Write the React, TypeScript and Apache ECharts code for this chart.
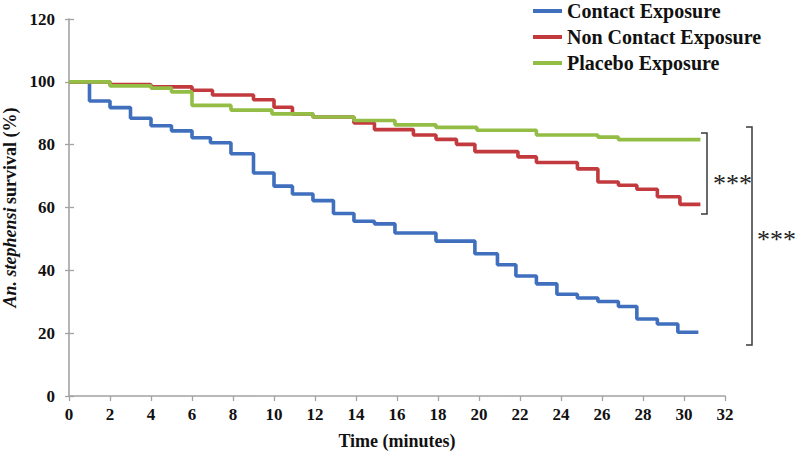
import React, { useEffect, useRef } from "react";
import * as echarts from "echarts";

// ---- Data (time in minutes, survival in %) ----
const seriesNames = ["Contact Exposure", "Non Contact Exposure", "Placebo Exposure"];

const contactTimes = [0, 1.0, 2.0, 3.0, 4.0, 5.0, 6.0, 6.9, 7.9, 9.0, 10.0, 10.9, 11.9, 12.9, 13.9, 14.9, 15.9, 17.9, 19.8, 20.9, 21.8, 22.8, 23.8, 24.8, 25.8, 26.8, 27.7, 28.7, 29.7, 30.7];
const contactValues = [100, 93.9, 91.8, 88.4, 86.0, 84.4, 82.2, 80.6, 77.1, 71.0, 66.8, 64.3, 62.2, 58.1, 55.6, 54.8, 51.9, 49.3, 45.3, 41.8, 38.2, 35.7, 32.4, 31.2, 30.1, 28.5, 24.5, 22.9, 20.3, 20.3];

const nonContactTimes = [0, 2.0, 4.0, 6.0, 7.0, 9.0, 10.0, 10.9, 11.9, 13.9, 14.9, 16.8, 17.9, 18.9, 19.8, 21.9, 22.8, 24.8, 25.8, 26.8, 27.7, 28.7, 29.8, 30.8];
const nonContactValues = [100, 99.1, 98.4, 97.3, 95.8, 94.3, 91.9, 89.8, 88.8, 86.9, 84.8, 83.1, 81.7, 80.1, 77.8, 76.1, 74.3, 72.3, 68.1, 67.1, 65.8, 63.4, 61.0, 61.0];

const placeboTimes = [0, 2.0, 4.0, 5.0, 6.0, 7.9, 9.9, 11.9, 13.9, 15.9, 17.9, 19.9, 22.8, 25.8, 26.8, 30.8];
const placeboValues = [100, 98.7, 98.0, 96.8, 92.5, 91.0, 89.8, 88.8, 87.7, 86.3, 85.5, 84.6, 83.1, 82.4, 81.6, 81.6];

const xTicks = { min: 0, max: 32, interval: 2 };
const yTicks = { min: 0, max: 120, interval: 20 };

const significanceLabel = "***";

const colors = ["#3f6fbd", "#c33a3e", "#93bd45"];

const pair = (t: number[], v: number[]) => t.map((x, i) => [x, v[i]]);

export default function App() {
  const ref = useRef<HTMLDivElement>(null);

  useEffect(() => {
    if (!ref.current) return;
    document.body.style.margin = "0";
    const chart = echarts.init(ref.current, undefined, { renderer: "svg", width: 797, height: 458 });
    const serif = "Liberation Serif";
    const axisColor = "#a3a3a3";
    const bracketColor = "#3a3a3a";

    const seriesData = [
      pair(contactTimes, contactValues),
      pair(nonContactTimes, nonContactValues),
      pair(placeboTimes, placeboValues),
    ];

    chart.setOption({
      animation: false,
      color: colors,
      grid: { left: 69, right: 72, top: 19, bottom: 62, containLabel: false, outerBoundsMode: "none" },
      legend: {
        orient: "vertical",
        left: 533,
        top: 1,
        padding: 0,
        icon: "rect",
        itemWidth: 29,
        itemHeight: 4,
        itemGap: 6,
        textStyle: { fontFamily: serif, fontWeight: "bold", fontSize: 20, color: "#111" },
        data: seriesNames,
      },
      xAxis: {
        type: "value",
        min: xTicks.min,
        max: xTicks.max,
        interval: xTicks.interval,
        name: "Time (minutes)",
        nameLocation: "middle",
        nameGap: 36,
        nameTextStyle: { fontFamily: serif, fontWeight: "bold", fontSize: 18, color: "#111" },
        axisLine: { lineStyle: { color: axisColor, width: 1.6 } },
        axisTick: { length: 5, lineStyle: { color: axisColor, width: 1.3 } },
        axisLabel: { fontFamily: serif, fontWeight: "bold", fontSize: 17, color: "#111", margin: 10 },
        splitLine: { show: false },
      },
      yAxis: [
        {
          type: "value",
          min: yTicks.min,
          max: yTicks.max,
          interval: yTicks.interval,
          name: "{i|An. stephensi} {b|survival (%)}",
          nameLocation: "middle",
          nameRotate: 90,
          nameGap: 43,
          nameTextStyle: {
            rich: {
              i: { fontFamily: serif, fontWeight: "bold", fontStyle: "italic", fontSize: 18, color: "#111" },
              b: { fontFamily: serif, fontWeight: "bold", fontSize: 18, color: "#111" },
            },
          },
          axisLine: { show: true, lineStyle: { color: axisColor, width: 1.6 } },
          axisTick: { show: true, length: 4, lineStyle: { color: axisColor, width: 1.3 } },
          axisLabel: { fontFamily: serif, fontWeight: "bold", fontSize: 17, color: "#111", margin: 14 },
          splitLine: { show: false },
        },
        {
          type: "value",
          position: "left",
          min: yTicks.min,
          max: yTicks.max,
          interval: yTicks.interval,
          axisLine: { show: false },
          axisTick: { show: true, inside: true, length: 5, lineStyle: { color: axisColor, width: 1.3 } },
          axisLabel: { show: false },
          splitLine: { show: false },
        },
      ],
      series: seriesNames.map((name, i) => ({
        name,
        type: "line",
        step: "end",
        yAxisIndex: 0,
        showSymbol: false,
        symbol: "none",
        lineStyle: { width: 3.6, color: colors[i] },
        data: seriesData[i],
        z: 2 + i,
      })),
      graphic: [
        {
          type: "polyline",
          shape: { points: [[701, 133], [707, 133], [707, 214], [701, 214]] },
          style: { stroke: bracketColor, lineWidth: 1.5, fill: "none" },
        },
        {
          type: "text",
          x: 713,
          y: 183,
          style: { text: significanceLabel, fontFamily: serif, fontSize: 26, fill: "#222", verticalAlign: "middle" },
        },
        {
          type: "polyline",
          shape: { points: [[746, 127], [752, 127], [752, 345], [746, 345]] },
          style: { stroke: bracketColor, lineWidth: 1.5, fill: "none" },
        },
        {
          type: "text",
          x: 757,
          y: 239,
          style: { text: significanceLabel, fontFamily: serif, fontSize: 26, fill: "#222", verticalAlign: "middle" },
        },
      ],
    });

    return () => chart.dispose();
  }, []);

  return <div ref={ref} style={{ width: 797, height: 458 }} />;
}
